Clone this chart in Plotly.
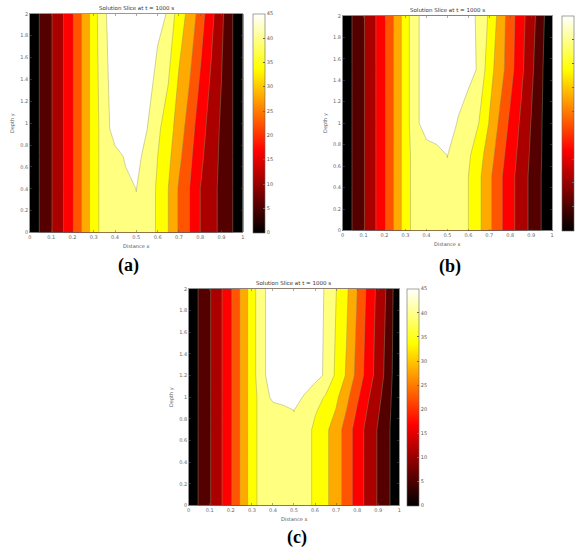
import plotly.graph_objects as go

# ---------------- data ----------------
x_grid = [0, 0.05, 0.1, 0.15, 0.2, 0.25, 0.3, 0.35, 0.4, 0.45, 0.5,
          0.55, 0.6, 0.65, 0.7, 0.75, 0.8, 0.85, 0.9, 0.95, 1.0]

y_a = [0, 0.4, 0.7, 0.95, 2.0]
z_a = [
    [0, 5.6, 9.6, 14.1, 19.4, 25.9, 32.7, 37.5, 38.5, 39, 39.3, 38, 34.25, 30, 24.4, 20, 15, 11.9, 8.7, 5.3, 0],
    [0, 5.6, 9.6, 14.1, 19.4, 25.9, 32.7, 37.5, 38.5, 39, 40.05, 38, 34.25, 30, 24.4, 20, 15, 11.9, 8.7, 5.3, 0],
    [0, 5.6, 9.6, 14.1, 19.4, 25.9, 32.7, 37.5, 38.5, 40.5, 41.5, 38.4, 35.05, 31.25, 26.25, 21.25, 16.2, 12.4, 9, 5.3, 0],
    [0, 5.6, 9.6, 14.1, 19.4, 25.9, 32.7, 37.5, 42.5, 43, 42.5, 40.1, 36.1, 32.1, 27.8, 22.4, 17.3, 12.9, 9.2, 5.3, 0],
    [0, 5.6, 9.6, 14.1, 19.4, 25.9, 32.7, 39.5, 42, 43, 43, 42.5, 41.5, 39.6, 32, 28.75, 22.5, 16.7, 11.1, 5.3, 0],
]

y_b = [0, 0.5, 0.7, 1.0, 1.5, 2.0]
z_b = [
    [0, 5.6, 9.6, 14.1, 19.4, 25.9, 32.7, 37.5, 38.5, 39, 39.3, 38, 35, 31.05, 26.1, 21, 16.7, 12.7, 8.8, 4.8, 0],
    [0, 5.6, 9.6, 14.1, 19.4, 25.9, 32.7, 37.5, 38.5, 39, 39.6, 38, 35, 31.05, 26.1, 21, 16.7, 12.7, 8.8, 4.8, 0],
    [0, 5.6, 9.6, 14.1, 19.4, 25.9, 32.7, 37.5, 37.8, 38.5, 40.05, 37.7, 35.8, 31.95, 27.5, 22.1, 17.5, 13.3, 9.2, 5, 0],
    [0, 5.6, 9.6, 14.1, 19.4, 25.9, 32.7, 39, 42.3, 43, 42.5, 39.7, 37.4, 35, 29.7, 24, 18.9, 14.3, 9.8, 5.2, 0],
    [0, 5.6, 9.6, 14.1, 19.4, 25.9, 32.7, 39, 42.3, 43, 43, 42.5, 41.5, 39.5, 31.85, 27.4, 21.8, 16.4, 11.2, 5.7, 0],
    [0, 5.6, 9.6, 14.1, 19.4, 25.9, 32.7, 39, 42.3, 43, 43, 42.5, 41.5, 39.2, 34.2, 28.1, 22.3, 17, 12.2, 6.75, 0],
]

y_c = [0, 0.7, 0.88, 1.0, 1.2, 2.0]
z_c = [
    [0, 5.6, 9.6, 14.1, 19.4, 25.9, 32.7, 37.5, 38.5, 39, 39.3, 38, 33.6, 31.05, 27.5, 22.7, 17.7, 13.4, 9.5, 5.7, 0],
    [0, 5.6, 9.6, 14.1, 19.4, 25.9, 32.7, 37.5, 38.5, 39, 39.5, 38, 33.6, 31.05, 27.5, 22.7, 17.7, 13.4, 9.5, 5.7, 0],
    [0, 5.6, 9.6, 14.1, 19.4, 25.9, 32.7, 37.5, 38.3, 38.8, 40.05, 37.8, 35.7, 32.75, 29.8, 24.9, 19.5, 14.7, 10.5, 6.2, 0],
    [0, 5.6, 9.6, 14.1, 19.4, 25.9, 32.7, 37.5, 41.1, 42, 41.5, 39.6, 37.1, 34.55, 31.05, 26.3, 20.9, 15.7, 11.3, 6.6, 0],
    [0, 5.6, 9.6, 14.1, 19.4, 25.9, 32.7, 39, 42.3, 43, 43, 42.5, 41.5, 39.4, 34, 29.4, 23.3, 17.8, 12.7, 7.5, 0],
    [0, 5.6, 9.6, 14.1, 19.4, 25.9, 32.7, 39, 42.3, 43, 43, 42.5, 41.5, 39.7, 35.15, 30.85, 25, 18.9, 13.6, 8.6, 0],
]

x_ticks = [0, 0.1, 0.2, 0.3, 0.4, 0.5, 0.6, 0.7, 0.8, 0.9, 1]
x_ticktext = ["0", "0.1", "0.2", "0.3", "0.4", "0.5", "0.6", "0.7", "0.8", "0.9", "1"]
y_ticks = [0, 0.2, 0.4, 0.6, 0.8, 1.0, 1.2, 1.4, 1.6, 1.8, 2.0]
y_ticktext = ["0", "0.2", "0.4", "0.6", "0.8", "1", "1.2", "1.4", "1.6", "1.8", "2"]
cb_ticks = [0, 5, 10, 15, 20, 25, 30, 35, 40, 45]

titles = ["Solution Slice at t = 1000 s", "Solution Slice at t = 1000 s", "Solution Slice at t = 1000 s"]
panel_labels = ["(a)", "(b)", "(c)"]
x_title = "Distance x"
y_title = "Depth y"

# ---------------- styling ----------------
W, H = 580, 553
HOT = [[0, "rgb(0,0,0)"], [0.375, "rgb(255,0,0)"], [0.75, "rgb(255,255,0)"], [1, "rgb(255,255,255)"]]


def px(x):
    return x / W


def py(y):
    return 1 - y / H


# panel boxes in pixels: left, right, top, bottom ; colorbar left
panels = [
    dict(l=28, r=242.5, t=11, b=232, cb=253, cblabels=True),
    dict(l=343, r=554, t=13, b=230, cb=564, cblabels=False),
    dict(l=188, r=400, t=289, b=508, cb=408, cblabels=True),
]
label_pos = [(127, 265), (451, 266), (297, 540)]

fig = go.Figure()
datasets = [(y_a, z_a), (y_b, z_b), (y_c, z_c)]

annotations = []
layout_axes = {}
for i, (p, (yg, zg)) in enumerate(zip(panels, datasets)):
    n = "" if i == 0 else str(i + 1)
    xa, ya = "x" + n, "y" + n
    fig.add_trace(go.Contour(
        x=x_grid, y=yg, z=zg, xaxis=xa, yaxis=ya,
        colorscale=HOT, showscale=False, autocontour=False,
        contours=dict(start=5, end=40, size=5, coloring="fill", showlines=True),
        line=dict(color="rgba(150,150,100,0.55)", width=0.8, smoothing=0),
        hoverinfo="skip",
    ))
    # continuous colorbar (as MATLAB's colorbar)
    fig.add_trace(go.Scatter(
        x=[0.5], y=[-5], xaxis=xa, yaxis=ya, mode="markers",
        marker=dict(size=1, opacity=0, color=[0], colorscale=HOT, cmin=0, cmax=45,
                    showscale=True,
                    colorbar=dict(
                        x=px(p["cb"]), xanchor="left", y=py((p["t"] + p["b"]) / 2), yanchor="middle",
                        len=(p["b"] - p["t"]) / H, lenmode="fraction",
                        thickness=12, thicknessmode="pixels",
                        xpad=0, ypad=0, outlinewidth=0.6, outlinecolor="#666",
                        tickvals=cb_ticks, ticks="inside", ticklen=2, tickcolor="#666",
                        showticklabels=p["cblabels"],
                        tickfont=dict(size=5, color="#555", family="DejaVu Sans"),
                    )),
        hoverinfo="skip", showlegend=False,
    ))
    axis_common = dict(showline=True, mirror="ticks", linecolor="#555", linewidth=0.6,
                       ticks="inside", ticklen=2, tickwidth=0.5, tickcolor="#555",
                       tickfont=dict(size=5, color="#666", family="DejaVu Sans"),
                       showgrid=False, zeroline=False, fixedrange=True)
    layout_axes["xaxis" + n] = dict(axis_common, domain=[px(p["l"]), px(p["r"])], anchor=ya,
                                    range=[0, 1], tickvals=x_ticks, ticktext=x_ticktext)
    layout_axes["yaxis" + n] = dict(axis_common, domain=[py(p["b"]), py(p["t"])], anchor=xa,
                                    range=[0, 2], tickvals=y_ticks, ticktext=y_ticktext)
    cx = (p["l"] + p["r"]) / 2
    cy = (p["t"] + p["b"]) / 2
    annotations.append(dict(text=titles[i], x=px(cx), y=py(p["t"] - 6), xref="paper", yref="paper",
                            showarrow=False, font=dict(size=5.5, color="#333", family="DejaVu Sans"),
                            xanchor="center", yanchor="middle"))
    annotations.append(dict(text=x_title, x=px(cx), y=py(p["b"] + 14), xref="paper", yref="paper",
                            showarrow=False, font=dict(size=5, color="#555", family="DejaVu Sans"),
                            xanchor="center", yanchor="middle"))
    annotations.append(dict(text=y_title, x=px(p["l"] - 18), y=py(cy), xref="paper", yref="paper",
                            showarrow=False, textangle=-90,
                            font=dict(size=5, color="#555", family="DejaVu Sans"),
                            xanchor="center", yanchor="middle"))
    lx, ly = label_pos[i]
    annotations.append(dict(text="<b>" + panel_labels[i] + "</b>", x=px(lx), y=py(ly), xref="paper",
                            yref="paper", showarrow=False,
                            font=dict(size=18, color="black", family="Liberation Serif"),
                            xanchor="center", yanchor="middle"))

fig.update_layout(
    width=W, height=H, margin=dict(l=0, r=0, t=0, b=0),
    paper_bgcolor="white", plot_bgcolor="white", showlegend=False,
    annotations=annotations, **layout_axes,
)

fig.write_html("out.html", config={"displayModeBar": False, "staticPlot": True},
               post_script="document.body.style.margin='0px';document.body.style.overflow='hidden';")
